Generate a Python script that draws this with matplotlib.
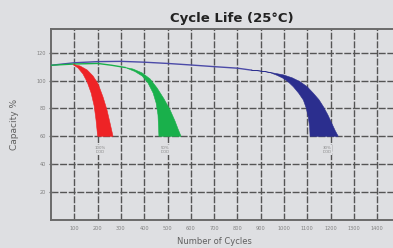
import matplotlib
matplotlib.use("Agg")
from matplotlib import pyplot as plt

# capacity lines before the bands open up
blue_line_x = [0, 100, 200, 300, 400, 500, 600, 700, 800, 860]
blue_line_y = [111, 112.8, 113.6, 113.8, 113.2, 112.3, 111.2, 110, 108.9, 107.5]
green_line_x = [0, 100, 200, 260, 318]
green_line_y = [111, 111.9, 112.3, 111, 109.4]

# bands: outer (right) edge and inner (left) edge
red_top_x = [94, 124, 155, 180, 202, 223, 240, 253, 266]
red_top_y = [111.5, 110.5, 107.6, 103.3, 97.6, 88.2, 78.9, 69.6, 60]
red_bot_x = [94, 116, 137, 155, 172, 185, 193, 200]
red_bot_y = [111.5, 109, 104.7, 99, 91.1, 81.8, 71.7, 60]

green_top_x = [318, 352, 391, 425, 455, 485, 511, 532, 545, 558]
green_top_y = [109.4, 108.3, 105.5, 101.2, 94.7, 86.8, 78.9, 71, 65.3, 60]
green_bot_x = [318, 360, 391, 416, 438, 451, 459, 463]
green_bot_y = [109.4, 106.5, 103.3, 98.3, 91.1, 83.9, 75.3, 60]

blue_top_x = [860, 930, 997, 1035, 1069, 1100, 1126, 1150, 1169, 1188, 1205, 1220, 1233]
blue_top_y = [107.5, 106.2, 104.1, 102, 99.2, 95.5, 90.9, 86.3, 81.3, 75.5, 69.4, 64, 60]
blue_bot_x = [860, 900, 940, 970, 997, 1020, 1040, 1063, 1083, 1095, 1104, 1110, 1112]
blue_bot_y = [107.5, 106.9, 105.7, 103.8, 101.6, 98.8, 95.6, 91, 86.1, 80.5, 74.1, 67, 60]

dod_labels = ["100%\nDOD", "50%\nDOD", "30%\nDOD"]
dod_x = [210, 490, 1185]
dod_y = [50, 50, 50]

x_ticks = [100, 200, 300, 400, 500, 600, 700, 800, 900, 1000, 1100, 1200, 1300, 1400]
y_ticks = [20, 40, 60, 80, 100, 120]

bg = "#dedfe2"
red = "#ee2326"
green = "#19b04b"
blue = "#2b2e8e"

fig = plt.figure(figsize=(3.93, 2.48), dpi=100, facecolor=bg)
ax = fig.add_axes([0.13, 0.113, 0.87, 0.77], facecolor=bg)

ax.plot(blue_line_x, blue_line_y, color="#4b4aa8", lw=1.0, zorder=3)
ax.plot(green_line_x, green_line_y, color=green, lw=1.0, zorder=4)

for tx, ty, bx, by, c in [(red_top_x, red_top_y, red_bot_x, red_bot_y, red),
                          (green_top_x, green_top_y, green_bot_x, green_bot_y, green),
                          (blue_top_x, blue_top_y, blue_bot_x, blue_bot_y, blue)]:
    px = list(tx) + list(bx[::-1])
    py = list(ty) + list(by[::-1])
    ax.fill(px, py, color=c, lw=0.4, ec=c, zorder=5)

for s, x, y in zip(dod_labels, dod_x, dod_y):
    ax.text(x, y, s, fontsize=2.8, color="#888888", ha="center", va="center",
            linespacing=1.1, zorder=6,
            bbox=dict(facecolor=bg, edgecolor="none", pad=0.6))

ax.set_xlim(0, 1468)
ax.set_ylim(0, 137)
ax.set_xticks(x_ticks)
ax.set_xticklabels([str(v) for v in x_ticks])
ax.set_yticks(y_ticks)
ax.set_yticklabels([str(v) for v in y_ticks])
ax.tick_params(axis="x", length=0, pad=4, labelsize=3.6, labelcolor="#808080")
ax.tick_params(axis="y", length=3, direction="inout", width=0.8, color="#666666",
               pad=2, labelsize=3.6, labelcolor="#808080")

ax.grid(True, color="#555555", lw=1.0, linestyle=(0, (5, 1.2)), zorder=1)
ax.set_axisbelow(True)
for side in ["left", "bottom", "top"]:
    ax.spines[side].set_color("#6a6a6a")
    ax.spines[side].set_linewidth(1.4)
ax.spines["right"].set_visible(False)

fig.text(0.59, 0.927, "Cycle Life (25\u00b0C)", fontsize=9.5, fontweight="bold",
         color="#222222", ha="center", va="center")
fig.text(0.545, 0.025, "Number of Cycles", fontsize=6, color="#606060",
         ha="center", va="center")
fig.text(0.036, 0.5, "Capacity %", fontsize=6.5, color="#606060",
         ha="center", va="center", rotation=90)

fig.savefig("out.png", dpi=100, facecolor=bg)
